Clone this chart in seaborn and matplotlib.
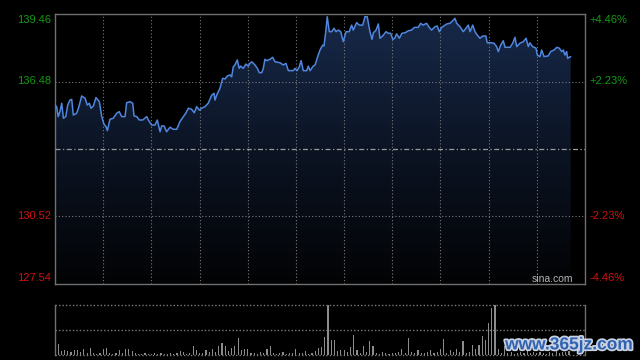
import numpy as np
import matplotlib.pyplot as plt
import matplotlib.patheffects as pe
from matplotlib.colors import LinearSegmentedColormap
import seaborn as sns

# intraday price (minutes from open, price)
minutes = [0.0, 1.0, 2.0, 3.1, 4.2, 5.2, 6.7, 7.9, 9.3, 10.4, 11.4, 13.5, 14.9, 16.6, 18.7,
           20.1, 21.4, 22.4, 23.9, 25.5, 27.6, 29.1, 30.5, 31.8, 32.6, 34.2, 36.3, 38.4, 40.0,
           41.5, 43.6, 44.6, 46.7, 48.4, 49.2, 50.9, 52.5, 54.6, 57.1, 58.1, 60.2, 62.3, 63.7,
           65.4, 66.4, 67.9, 69.5, 71.6, 73.7, 75.8, 77.8, 79.9, 81.6, 83.0, 85.1, 86.7, 88.2,
           89.8, 91.3, 93.4, 95.4, 97.6, 99.0, 99.6, 100.7, 102.7, 104.4, 105.8, 107.3, 109.0,
           110.0, 111.0, 112.0, 113.5, 114.7, 115.6, 117.2, 118.9, 120.3, 121.4, 122.5, 124.5,
           126.0, 127.2, 128.7, 129.7, 130.7, 131.8, 133.9, 135.5, 137.0, 140.1, 142.1, 143.8,
           145.3, 148.4, 149.4, 150.7, 152.1, 153.2, 154.6, 156.7, 157.7, 158.8, 160.8, 161.9,
           163.9, 165.0, 166.7, 167.5, 168.7, 169.5, 170.8, 172.3, 173.7, 175.0, 176.4, 177.9,
           179.5, 181.2, 183.2, 184.7, 185.7, 187.8, 189.5, 191.6, 193.0, 194.4, 196.1, 197.4,
           198.2, 199.9, 201.3, 202.3, 204.0, 206.1, 207.5, 209.0, 210.3, 211.5, 212.7, 214.4,
           216.0, 217.9, 220.0, 222.1, 223.1, 224.1, 226.2, 227.7, 229.1, 231.4, 233.0, 234.5,
           236.6, 238.0, 239.3, 240.8, 243.9, 245.9, 247.6, 249.0, 250.1, 252.2, 254.2, 255.9,
           257.3, 258.4, 260.1, 261.5, 262.9, 264.6, 266.3, 268.3, 269.1, 271.9, 273.3, 275.0,
           276.0, 277.5, 279.1, 280.2, 283.3, 285.0, 286.4, 287.5, 289.5, 291.6, 293.3, 294.7,
           295.7, 297.4, 299.5, 300.3, 302.0, 303.0, 304.5, 307.1, 308.6, 310.7, 312.4, 314.0,
           315.5, 316.5, 317.5, 318.6, 319.2, 320.2, 321.1]
prices = [135.44, 135.37, 134.93, 135.15, 135.52, 134.86, 134.93, 135.44, 135.66, 135.69, 135.00,
          135.08, 135.37, 135.84, 135.74, 135.44, 135.52, 135.30, 135.40, 135.77, 135.59, 134.93,
          134.60, 134.48, 134.31, 134.81, 134.86, 135.08, 135.15, 134.93, 134.93, 135.54, 135.59,
          135.52, 134.96, 134.93, 134.78, 134.78, 134.93, 134.78, 134.56, 134.56, 134.78, 134.26,
          134.52, 134.52, 134.26, 134.46, 134.37, 134.37, 134.71, 134.93, 135.10, 135.30, 135.25,
          135.10, 135.37, 135.22, 135.30, 135.37, 135.52, 135.88, 135.96, 135.66, 135.88, 136.18,
          136.62, 136.59, 136.72, 136.77, 136.69, 137.13, 137.21, 137.43, 137.06, 137.16, 137.06,
          137.25, 137.16, 137.28, 137.35, 137.21, 137.06, 136.87, 136.87, 137.06, 137.46, 137.40,
          137.46, 137.55, 137.35, 137.31, 137.21, 137.28, 136.96, 136.96, 137.06, 136.96, 137.13,
          137.40, 136.96, 136.96, 137.16, 136.96, 137.16, 137.21, 137.65, 137.87, 138.09, 138.05,
          138.75, 139.34, 138.68, 138.68, 138.83, 138.68, 138.75, 138.68, 138.24, 138.68, 138.68,
          138.97, 138.75, 139.08, 138.97, 138.97, 139.34, 139.34, 138.68, 138.34, 138.63, 138.75,
          139.02, 138.39, 138.49, 138.68, 138.61, 138.61, 138.34, 138.39, 138.58, 138.39, 138.61,
          138.63, 138.72, 138.75, 138.83, 138.87, 138.87, 139.05, 138.97, 139.05, 138.87, 138.75,
          138.90, 138.93, 138.68, 138.87, 139.02, 139.05, 139.16, 139.27, 139.05, 138.90, 138.68,
          138.83, 138.97, 138.68, 138.97, 138.68, 138.53, 138.39, 138.49, 138.49, 138.19, 138.19,
          138.17, 138.02, 137.80, 138.09, 138.28, 137.99, 137.99, 138.17, 138.43, 138.02, 138.17,
          138.24, 138.39, 138.02, 138.19, 138.02, 137.95, 137.65, 137.58, 137.87, 137.58, 137.61,
          137.80, 137.87, 137.99, 137.95, 137.80, 137.87, 137.65, 137.80, 137.50, 137.55, 137.58]

# volume, one bar per two minutes (relative units, 100 = panel top)
vol_minutes = list(range(0, 322, 2))
volumes = [45, 22, 8, 10, 8, 7, 10, 10, 7, 13,
           4, 15, 5, 3, 4, 13, 15, 5, 3, 4,
           10, 5, 12, 12, 9, 4, 3, 2, 5, 3,
           2, 4, 3, 5, 3, 2, 4, 3, 5, 8,
           6, 3, 4, 18, 11, 5, 4, 10, 6, 13,
           7, 18, 25, 18, 9, 15, 19, 35, 10, 13,
           12, 5, 4, 3, 7, 4, 13, 18, 5, 3,
           4, 7, 3, 4, 5, 12, 4, 5, 8, 3,
           4, 9, 15, 17, 37, 100, 30, 30, 8, 10,
           10, 6, 17, 40, 11, 5, 18, 7, 28, 18,
           5, 3, 6, 4, 3, 5, 4, 6, 13, 5,
           35, 6, 4, 11, 5, 4, 6, 10, 5, 7,
           13, 33, 5, 11, 6, 13, 7, 28, 5, 7,
           20, 13, 20, 38, 30, 65, 95, 100, 13, 5,
           18, 4, 6, 3, 5, 7, 4, 8, 5, 6,
           4, 7, 5, 3, 6, 4, 8, 5, 7, 6, 9]

pre_close = 133.50
price_ticks = [139.46, 136.48, 130.52, 127.54]
pct_labels = ["+4.46%", "+2.23%", "-2.23%", "-4.46%"]
tick_colors = ["#129a12", "#129a12", "#d01010", "#d01010"]

sns.set_style("dark")
plt.rcParams['font.family'] = ['Liberation Sans', 'DejaVu Sans']

fig = plt.figure(figsize=(6.4, 3.6), dpi=100, facecolor="black")
ax = fig.add_axes([55 / 640, 1 - 284 / 360, 530 / 640, 270 / 360], facecolor="black")
axv = fig.add_axes([55 / 640, 1 - 355 / 360, 530 / 640, 50 / 360], facecolor="black")

ymin, ymax = price_ticks[-1], price_ticks[0]
xmax = 330

# gradient area under the price line
poly = ax.fill_between(minutes, prices, ymin, color="none", lw=0)
cmap = LinearSegmentedColormap.from_list("area", ["#020304", "#0c1424", "#17294a"])
grad = np.linspace(0, 1, 256).reshape(-1, 1)
img = ax.imshow(grad, extent=[0, xmax, ymin, ymax], origin="lower", aspect="auto",
                cmap=cmap, zorder=1)
img.set_clip_path(poly.get_paths()[0], transform=ax.transData)

sns.lineplot(x=minutes, y=prices, ax=ax, color="#4f86de", linewidth=1.1,
             estimator=None, zorder=4)

# grid
for gx in range(30, xmax, 30):
    ax.axvline(gx, color="#7a7a7a", lw=0.8, ls=(0, (1, 2)), zorder=3)
for gy in price_ticks[1:3]:
    ax.axhline(gy, color="#7a7a7a", lw=0.8, ls=(0, (1, 2)), zorder=3)
ax.axhline(pre_close, color="#9a9a9a", lw=0.9, ls=(0, (4, 2, 1, 2)), zorder=3)

ax.set_xlim(0, xmax)
ax.set_ylim(ymin, ymax)
ax.set_xticks([])
ax.set_yticks([])
ax.set_xlabel("")
ax.set_ylabel("")
for sp in ax.spines.values():
    sp.set_color("#707070")
    sp.set_linewidth(1)

trans = ax.get_yaxis_transform()
for i, (val, pct, c) in enumerate(zip(price_ticks, pct_labels, tick_colors)):
    va = "top" if i == 0 else ("bottom" if i == len(price_ticks) - 1 else "center")
    off = -1 if i == 0 else (1 if i == len(price_ticks) - 1 else 0)
    ax.annotate(f"{val:.2f}", (-0.008, val), xycoords=trans, xytext=(0, off),
                textcoords="offset points", ha="right", va=va, color=c, fontsize=8)
    ax.annotate(pct, (1.008, val), xycoords=trans, xytext=(0, off),
                textcoords="offset points", ha="left", va=va, color=c, fontsize=8)

ax.text(0.977, 0.02, "sina.com", transform=ax.transAxes, ha="right", va="center",
        color="#b4b4b4", fontsize=7.5, zorder=5)

# volume panel
sns.barplot(x=vol_minutes, y=volumes, ax=axv, native_scale=True, color="#8c8c8c",
            width=0.35, saturation=1, errorbar=None, linewidth=0)
axv.set_xlim(0, xmax)
axv.set_ylim(0, 100)
axv.set_xticks([])
axv.set_yticks([])
axv.set_xlabel("")
axv.set_ylabel("")
for gy in (0, 50, 100):
    axv.axhline(gy, color="#7a7a7a", lw=1, ls=(0, (1, 1.5)), clip_on=False, zorder=3)
axv.spines["top"].set_visible(False)
axv.spines["bottom"].set_visible(False)
for s in ("left", "right"):
    axv.spines[s].set_color("#707070")
    axv.spines[s].set_linewidth(1)

fig.text(0.989, 0.042, "www.365jz.com", ha="right", va="center", color="#2f62b0",
         fontsize=12.5, fontweight="bold",
         path_effects=[pe.withStroke(linewidth=2.5, foreground="#c9d2e2")])

fig.savefig("out.png", dpi=100, facecolor="black")
